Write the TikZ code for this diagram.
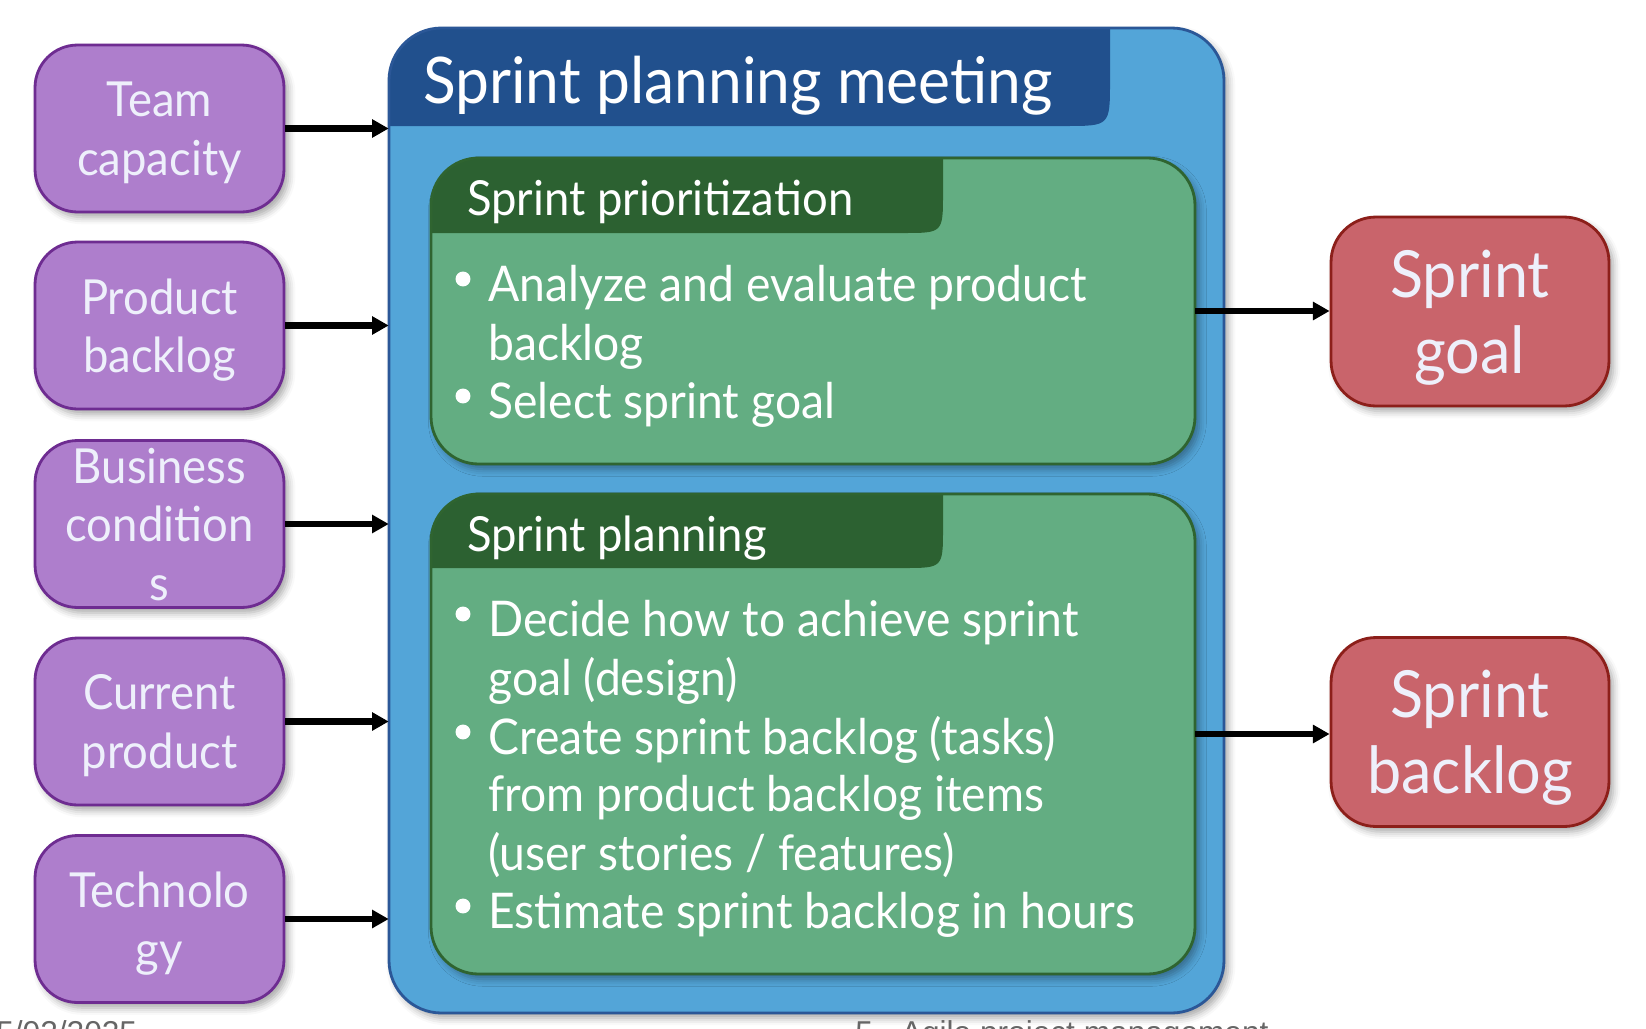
\documentclass[tikz,border=0pt]{standalone}
\usepackage{fontspec}
\setmainfont[FakeStretch=0.94]{Lato}
\newfontfamily\footfont{Liberation Sans}
\usetikzlibrary{arrows.meta,shadows.blur}
\definecolor{pfill}{HTML}{AE7ECC}
\definecolor{pborder}{HTML}{6E2C91}
\definecolor{ltext}{HTML}{EEF0FB}
\definecolor{bfill}{HTML}{53A5D8}
\definecolor{bborder}{HTML}{2B5797}
\definecolor{bhead}{HTML}{21508D}
\definecolor{gfill}{HTML}{63AD82}
\definecolor{gborder}{HTML}{2F6430}
\definecolor{ghead}{HTML}{2C6131}
\definecolor{rfill}{HTML}{C9646B}
\definecolor{rborder}{HTML}{8C1F1A}
\definecolor{foot}{HTML}{666666}
\begin{document}
\begin{tikzpicture}[x=0.02cm,y=-0.02cm,
  shad/.style={blur shadow={shadow xshift=2.5pt,shadow yshift=-3pt,shadow opacity=35,shadow blur radius=4pt}},
  pbox/.style={shad,draw=pborder,fill=pfill,line width=1.6pt,rounded corners=0.85cm,
    minimum width=4.98cm,minimum height=3.34cm,text=ltext,align=center,inner sep=0pt,
    text depth=0pt,font=\fontsize{27.5}{33.3}\selectfont},
  rbox/.style={shad,draw=rborder,fill=rfill,line width=1.6pt,rounded corners=0.9cm,
    minimum width=5.56cm,minimum height=3.78cm,text=ltext,align=center,inner sep=0pt,
    text depth=0pt,font=\fontsize{37}{43.4}\selectfont},
  bigbox/.style={shad,fill=bfill,rounded corners=1.05cm,minimum width=16.7cm,minimum height=19.7cm,inner sep=0pt},
  gbox/.style={shad,fill=gfill,rounded corners=0.95cm,minimum width=15.28cm,inner sep=0pt},
  title/.style={anchor=base west,inner sep=0pt,text=white,font=\fontsize{36.6}{40}\selectfont},
  gtitle/.style={anchor=base west,inner sep=0pt,text=white,font=\fontsize{27.5}{30}\selectfont},
  btext/.style={anchor=base west,inner sep=0pt,text=white,font=\fontsize{28}{33}\selectfont},
  dot/.style={circle,fill=white,minimum size=8.5pt,inner sep=0pt},
  arr/.style={line width=3.8pt,-{Triangle[length=9.5pt,width=10pt]}},
  footer/.style={anchor=base west,inner sep=0pt,text=foot,font=\footfont\fontsize{18}{20}\selectfont}
]
\useasboundingbox (0,0) rectangle (1646,1028);

% big meeting box
\node[bigbox] (meet) at (806.5,520.5) {};
\begin{scope}
  \clip[rounded corners=1.05cm] (389,28) rectangle (1224,1013);
  \fill[bhead] (380,20) -- (1110,20) -- (1110,81) .. controls (1110,126) .. (1065,126) -- (380,126) -- cycle;
\end{scope}
\draw[bborder,line width=1.6pt,rounded corners=1.05cm] (389,28) rectangle (1224,1013);
\node[title] (mtitle) at (423,103) {Sprint planning meeting};

% green box 1
\node[gbox,minimum height=6.12cm] (prio) at (813,311) {};
\begin{scope}
  \clip[rounded corners=0.95cm] (431,158) rectangle (1195,464);
  \fill[ghead] (420,150) -- (943,150) -- (943,193) .. controls (943,233) .. (903,233) -- (420,233) -- cycle;
\end{scope}
\draw[gborder,line width=1.6pt,rounded corners=0.95cm] (431,158) rectangle (1195,464);
\node[gtitle] (priot) at (467,215) {Sprint prioritization};
\node[dot] (d1) at (463,279) {};
\node[btext] (l1) at (488,301) {Analyze and evaluate product};
\node[btext] (l2) at (488,360) {backlog};
\node[dot] (d2) at (463,396) {};
\node[btext] (l3) at (488,418) {Select sprint goal};

% green box 2
\node[gbox,minimum height=9.6cm] (plan) at (813,734) {};
\begin{scope}
  \clip[rounded corners=0.95cm] (431,494) rectangle (1195,974);
  \fill[ghead] (420,485) -- (943,485) -- (943,528) .. controls (943,568) .. (903,568) -- (420,568) -- cycle;
\end{scope}
\draw[gborder,line width=1.6pt,rounded corners=0.95cm] (431,494) rectangle (1195,974);
\node[gtitle] (plant) at (467,551) {Sprint planning};
\node[dot] (d3) at (463,614) {};
\node[btext] (m1) at (488,636) {Decide how to achieve sprint};
\node[btext] (m2) at (488,695) {goal (design)};
\node[dot] (d4) at (463,732) {};
\node[btext] (m3) at (488,754) {Create sprint backlog (tasks)};
\node[btext] (m4) at (488,811) {from product backlog items};
\node[btext] (m5) at (488,870) {(user stories / features)};
\node[dot] (d5) at (463,906) {};
\node[btext] (m6) at (488,928) {Estimate sprint backlog in hours};

% inputs
\node[pbox] (tc) at (159.5,128.5) {Team\\capacity};
\node[pbox] (pb) at (159.5,325.5) {Product\\backlog};
\node[pbox] (bc) at (159.5,524) {Business\\condition\\s};
\node[pbox] (cp) at (159.5,721.5) {Current\\product};
\node[pbox] (te) at (159.5,919) {Technolo\\gy};

% outputs
\node[rbox] (sg) at (1470,311.5) {Sprint\\goal};
\node[rbox] (sb) at (1470,732) {Sprint\\backlog};

% arrows
\foreach \n in {tc,pb,bc,cp,te}
  \draw[arr] (\n.east) -- (\n.east -| meet.west);
\draw[arr] (prio.east) -- (prio.east -| sg.west);
\draw[arr] (plan.east) -- (plan.east -| sb.west);

% footer (cut off at the lower edge, as in the original)
\node[footer] (date) at (-4,1043) {5/02/2025};
\node[footer] (fname) at (855,1043) {5 - Agile project management};
\end{tikzpicture}
\end{document}
